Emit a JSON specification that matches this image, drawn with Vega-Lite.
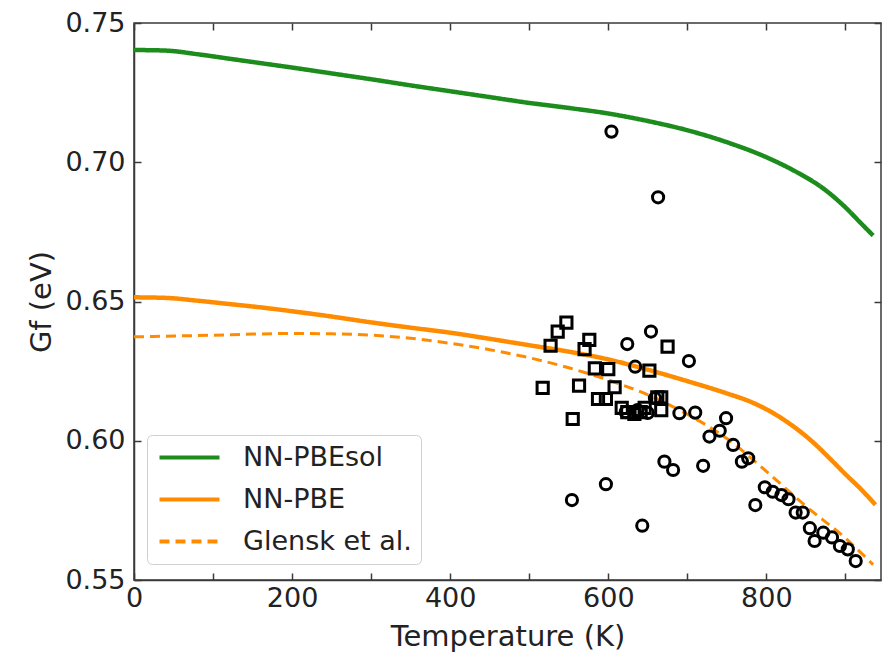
{
  "$schema": "https://vega.github.io/schema/vega-lite/v6.json",
  "width": 747,
  "height": 557,
  "autosize": {"type": "none"},
  "padding": {"left": 134, "top": 23, "right": 7, "bottom": 83},
  "background": "white",
  "config": {
    "view": {"stroke": "#3a3a3a", "strokeWidth": 1.5},
    "font": "DejaVu Sans",
    "axis": {
      "labelFont": "DejaVu Sans",
      "titleFont": "DejaVu Sans",
      "labelFontSize": 27,
      "titleFontSize": 29,
      "titleFontWeight": "normal",
      "labelColor": "#222222",
      "titleColor": "#222222",
      "domainColor": "#3a3a3a",
      "domainWidth": 1.5,
      "tickColor": "#3a3a3a",
      "tickWidth": 1.5,
      "tickSize": -7,
      "grid": false,
      "labelOverlap": false,
      "labelFlush": false
    }
  },
  "datasets": {
    "curves": [
      {"series": "NN-PBEsol", "T": 0, "G": 0.7403},
      {"series": "NN-PBEsol", "T": 40, "G": 0.7401},
      {"series": "NN-PBEsol", "T": 80, "G": 0.7388},
      {"series": "NN-PBEsol", "T": 120, "G": 0.7372},
      {"series": "NN-PBEsol", "T": 160, "G": 0.7356},
      {"series": "NN-PBEsol", "T": 200, "G": 0.7340},
      {"series": "NN-PBEsol", "T": 250, "G": 0.7319},
      {"series": "NN-PBEsol", "T": 300, "G": 0.7298},
      {"series": "NN-PBEsol", "T": 350, "G": 0.7276},
      {"series": "NN-PBEsol", "T": 400, "G": 0.7255},
      {"series": "NN-PBEsol", "T": 450, "G": 0.7234},
      {"series": "NN-PBEsol", "T": 500, "G": 0.7213},
      {"series": "NN-PBEsol", "T": 550, "G": 0.7195},
      {"series": "NN-PBEsol", "T": 600, "G": 0.7175},
      {"series": "NN-PBEsol", "T": 650, "G": 0.7148},
      {"series": "NN-PBEsol", "T": 700, "G": 0.7115},
      {"series": "NN-PBEsol", "T": 750, "G": 0.7072},
      {"series": "NN-PBEsol", "T": 800, "G": 0.7018},
      {"series": "NN-PBEsol", "T": 840, "G": 0.6962},
      {"series": "NN-PBEsol", "T": 870, "G": 0.6910},
      {"series": "NN-PBEsol", "T": 900, "G": 0.6838},
      {"series": "NN-PBEsol", "T": 920, "G": 0.6780},
      {"series": "NN-PBEsol", "T": 935, "G": 0.6737},
      {"series": "NN-PBE", "T": 0, "G": 0.6515},
      {"series": "NN-PBE", "T": 40, "G": 0.6513},
      {"series": "NN-PBE", "T": 80, "G": 0.6503},
      {"series": "NN-PBE", "T": 120, "G": 0.6491},
      {"series": "NN-PBE", "T": 160, "G": 0.6479},
      {"series": "NN-PBE", "T": 200, "G": 0.6465},
      {"series": "NN-PBE", "T": 250, "G": 0.6446},
      {"series": "NN-PBE", "T": 300, "G": 0.6425},
      {"series": "NN-PBE", "T": 350, "G": 0.6406},
      {"series": "NN-PBE", "T": 400, "G": 0.6388},
      {"series": "NN-PBE", "T": 450, "G": 0.6366},
      {"series": "NN-PBE", "T": 500, "G": 0.6343},
      {"series": "NN-PBE", "T": 550, "G": 0.6320},
      {"series": "NN-PBE", "T": 600, "G": 0.6292},
      {"series": "NN-PBE", "T": 650, "G": 0.6255},
      {"series": "NN-PBE", "T": 700, "G": 0.6214},
      {"series": "NN-PBE", "T": 750, "G": 0.6170},
      {"series": "NN-PBE", "T": 780, "G": 0.6140},
      {"series": "NN-PBE", "T": 800, "G": 0.6113},
      {"series": "NN-PBE", "T": 830, "G": 0.6060},
      {"series": "NN-PBE", "T": 860, "G": 0.5992},
      {"series": "NN-PBE", "T": 880, "G": 0.5937},
      {"series": "NN-PBE", "T": 900, "G": 0.5880},
      {"series": "NN-PBE", "T": 920, "G": 0.5825},
      {"series": "NN-PBE", "T": 938, "G": 0.5770},
      {"series": "Glensk et al.", "T": 0, "G": 0.6373},
      {"series": "Glensk et al.", "T": 50, "G": 0.6376},
      {"series": "Glensk et al.", "T": 100, "G": 0.6379},
      {"series": "Glensk et al.", "T": 150, "G": 0.6383},
      {"series": "Glensk et al.", "T": 200, "G": 0.6385},
      {"series": "Glensk et al.", "T": 250, "G": 0.6384},
      {"series": "Glensk et al.", "T": 300, "G": 0.6379},
      {"series": "Glensk et al.", "T": 350, "G": 0.6368},
      {"series": "Glensk et al.", "T": 400, "G": 0.6350},
      {"series": "Glensk et al.", "T": 450, "G": 0.6327},
      {"series": "Glensk et al.", "T": 500, "G": 0.6298},
      {"series": "Glensk et al.", "T": 550, "G": 0.6262},
      {"series": "Glensk et al.", "T": 600, "G": 0.6218},
      {"series": "Glensk et al.", "T": 650, "G": 0.6165},
      {"series": "Glensk et al.", "T": 700, "G": 0.6095},
      {"series": "Glensk et al.", "T": 750, "G": 0.6008},
      {"series": "Glensk et al.", "T": 800, "G": 0.5890},
      {"series": "Glensk et al.", "T": 850, "G": 0.5765},
      {"series": "Glensk et al.", "T": 900, "G": 0.5650},
      {"series": "Glensk et al.", "T": 935, "G": 0.5555}
    ],
    "points": [
      {"kind": "square", "T": 547, "G": 0.6424},
      {"kind": "square", "T": 536, "G": 0.6392},
      {"kind": "square", "T": 527, "G": 0.6341},
      {"kind": "square", "T": 576, "G": 0.6362},
      {"kind": "square", "T": 570, "G": 0.6329},
      {"kind": "square", "T": 517, "G": 0.6190},
      {"kind": "square", "T": 563, "G": 0.6198},
      {"kind": "square", "T": 555, "G": 0.6078},
      {"kind": "square", "T": 583, "G": 0.6260},
      {"kind": "square", "T": 600, "G": 0.6257},
      {"kind": "square", "T": 675, "G": 0.6338},
      {"kind": "square", "T": 652, "G": 0.6252},
      {"kind": "square", "T": 608, "G": 0.6192},
      {"kind": "square", "T": 587, "G": 0.6150},
      {"kind": "square", "T": 597, "G": 0.6150},
      {"kind": "square", "T": 662, "G": 0.6156},
      {"kind": "square", "T": 667, "G": 0.6156},
      {"kind": "square", "T": 667, "G": 0.6110},
      {"kind": "square", "T": 617, "G": 0.6118},
      {"kind": "square", "T": 624, "G": 0.6103},
      {"kind": "square", "T": 633, "G": 0.6096},
      {"kind": "square", "T": 641, "G": 0.6103},
      {"kind": "square", "T": 646, "G": 0.6118},
      {"kind": "circle", "T": 604, "G": 0.7110},
      {"kind": "circle", "T": 663, "G": 0.6874},
      {"kind": "circle", "T": 654, "G": 0.6392},
      {"kind": "circle", "T": 624, "G": 0.6347},
      {"kind": "circle", "T": 702, "G": 0.6286},
      {"kind": "circle", "T": 634, "G": 0.6266},
      {"kind": "circle", "T": 622, "G": 0.6103},
      {"kind": "circle", "T": 637, "G": 0.6110},
      {"kind": "circle", "T": 650, "G": 0.6100},
      {"kind": "circle", "T": 659, "G": 0.6153},
      {"kind": "circle", "T": 690, "G": 0.6099},
      {"kind": "circle", "T": 710, "G": 0.6101},
      {"kind": "circle", "T": 749, "G": 0.6081},
      {"kind": "circle", "T": 741, "G": 0.6036},
      {"kind": "circle", "T": 728, "G": 0.6015},
      {"kind": "circle", "T": 758, "G": 0.5985},
      {"kind": "circle", "T": 769, "G": 0.5925},
      {"kind": "circle", "T": 777, "G": 0.5937},
      {"kind": "circle", "T": 671, "G": 0.5925},
      {"kind": "circle", "T": 682, "G": 0.5895},
      {"kind": "circle", "T": 720, "G": 0.5910},
      {"kind": "circle", "T": 554, "G": 0.5787},
      {"kind": "circle", "T": 597, "G": 0.5844},
      {"kind": "circle", "T": 643, "G": 0.5695},
      {"kind": "circle", "T": 786, "G": 0.5769},
      {"kind": "circle", "T": 798, "G": 0.5833},
      {"kind": "circle", "T": 808, "G": 0.5817},
      {"kind": "circle", "T": 819, "G": 0.5805},
      {"kind": "circle", "T": 828, "G": 0.5790},
      {"kind": "circle", "T": 837, "G": 0.5742},
      {"kind": "circle", "T": 846, "G": 0.5742},
      {"kind": "circle", "T": 855, "G": 0.5686},
      {"kind": "circle", "T": 861, "G": 0.5640},
      {"kind": "circle", "T": 872, "G": 0.5670},
      {"kind": "circle", "T": 883, "G": 0.5653},
      {"kind": "circle", "T": 893, "G": 0.5622},
      {"kind": "circle", "T": 903, "G": 0.5610},
      {"kind": "circle", "T": 913, "G": 0.5568}
    ]
  },
  "layer": [
    {
      "data": {"name": "curves"},
      "transform": [{"filter": "datum.series !== 'Glensk et al.'"}],
      "mark": {"type": "line", "strokeWidth": 4.5, "clip": true, "interpolate": "monotone"},
      "encoding": {
        "x": {
          "field": "T", "type": "quantitative",
          "scale": {"domain": [0, 945], "nice": false, "zero": false},
          "axis": {
            "orient": "bottom",
            "title": "Temperature (K)",
            "values": [0, 100, 200, 300, 400, 500, 600, 700, 800, 900],
            "format": "d",
            "labelExpr": "datum.value % 200 === 0 ? datum.label : ''",
            "labelPadding": 12,
            "titlePadding": 11
          }
        },
        "y": {
          "field": "G", "type": "quantitative",
          "scale": {"domain": [0.55, 0.75], "nice": false, "zero": false},
          "axis": {
            "orient": "left",
            "title": "Gf (eV)",
            "values": [0.55, 0.6, 0.65, 0.7, 0.75],
            "format": ".2f",
            "labelPadding": 16,
            "titlePadding": 8
          }
        },
        "color": {
          "field": "series", "type": "nominal",
          "scale": {"domain": ["NN-PBEsol", "NN-PBE", "Glensk et al."], "range": ["#1c8c1c", "#ff8c00", "#ff8c00"]},
          "legend": {
            "orient": "none", "legendX": 13, "legendY": 412, "title": null,
            "symbolType": "M-1,0H5", "symbolSize": 400, "symbolStrokeWidth": 4,
            "labelFont": "DejaVu Sans", "labelFontSize": 27, "labelColor": "#222222", "labelOffset": 60, "labelLimit": 400,
            "padding": 9, "rowPadding": 14,
            "fillColor": "white", "strokeColor": "#d0d0d0", "cornerRadius": 5
          }
        },
        "strokeDash": {
          "field": "series", "type": "nominal",
          "scale": {"domain": ["NN-PBEsol", "NN-PBE", "Glensk et al."], "range": [[1, 0], [1, 0], [10, 6]]},
          "legend": {
            "orient": "none", "legendX": 13, "legendY": 412, "title": null,
            "symbolType": "M-1,0H5", "symbolSize": 400, "symbolStrokeWidth": 4,
            "labelFont": "DejaVu Sans", "labelFontSize": 27, "labelColor": "#222222", "labelOffset": 60, "labelLimit": 400,
            "padding": 9, "rowPadding": 14,
            "fillColor": "white", "strokeColor": "#d0d0d0", "cornerRadius": 5
          }
        },
        "detail": {"field": "series"}
      }
    },
    {
      "data": {"name": "curves"},
      "transform": [{"filter": "datum.series === 'Glensk et al.'"}],
      "mark": {"type": "line", "strokeWidth": 3, "clip": true, "interpolate": "monotone"},
      "encoding": {
        "x": {"field": "T", "type": "quantitative", "axis": null},
        "y": {"field": "G", "type": "quantitative", "axis": null},
        "color": {"field": "series", "type": "nominal"},
        "strokeDash": {"field": "series", "type": "nominal"}
      }
    },
    {
      "data": {"name": "points"},
      "mark": {"type": "point", "filled": false, "stroke": "black", "strokeWidth": 3, "size": 125, "opacity": 1},
      "encoding": {
        "x": {
          "field": "T", "type": "quantitative",
          "axis": {"orient": "top", "title": null, "labels": false, "domain": false, "values": [0, 100, 200, 300, 400, 500, 600, 700, 800, 900]}
        },
        "y": {
          "field": "G", "type": "quantitative",
          "axis": {"orient": "right", "title": null, "labels": false, "domain": false, "values": [0.55, 0.6, 0.65, 0.7, 0.75]}
        },
        "shape": {
          "field": "kind", "type": "nominal",
          "scale": {"domain": ["circle", "square"], "range": ["circle", "square"]},
          "legend": null
        }
      }
    }
  ],
  "resolve": {"axis": {"x": "independent", "y": "independent"}}
}
